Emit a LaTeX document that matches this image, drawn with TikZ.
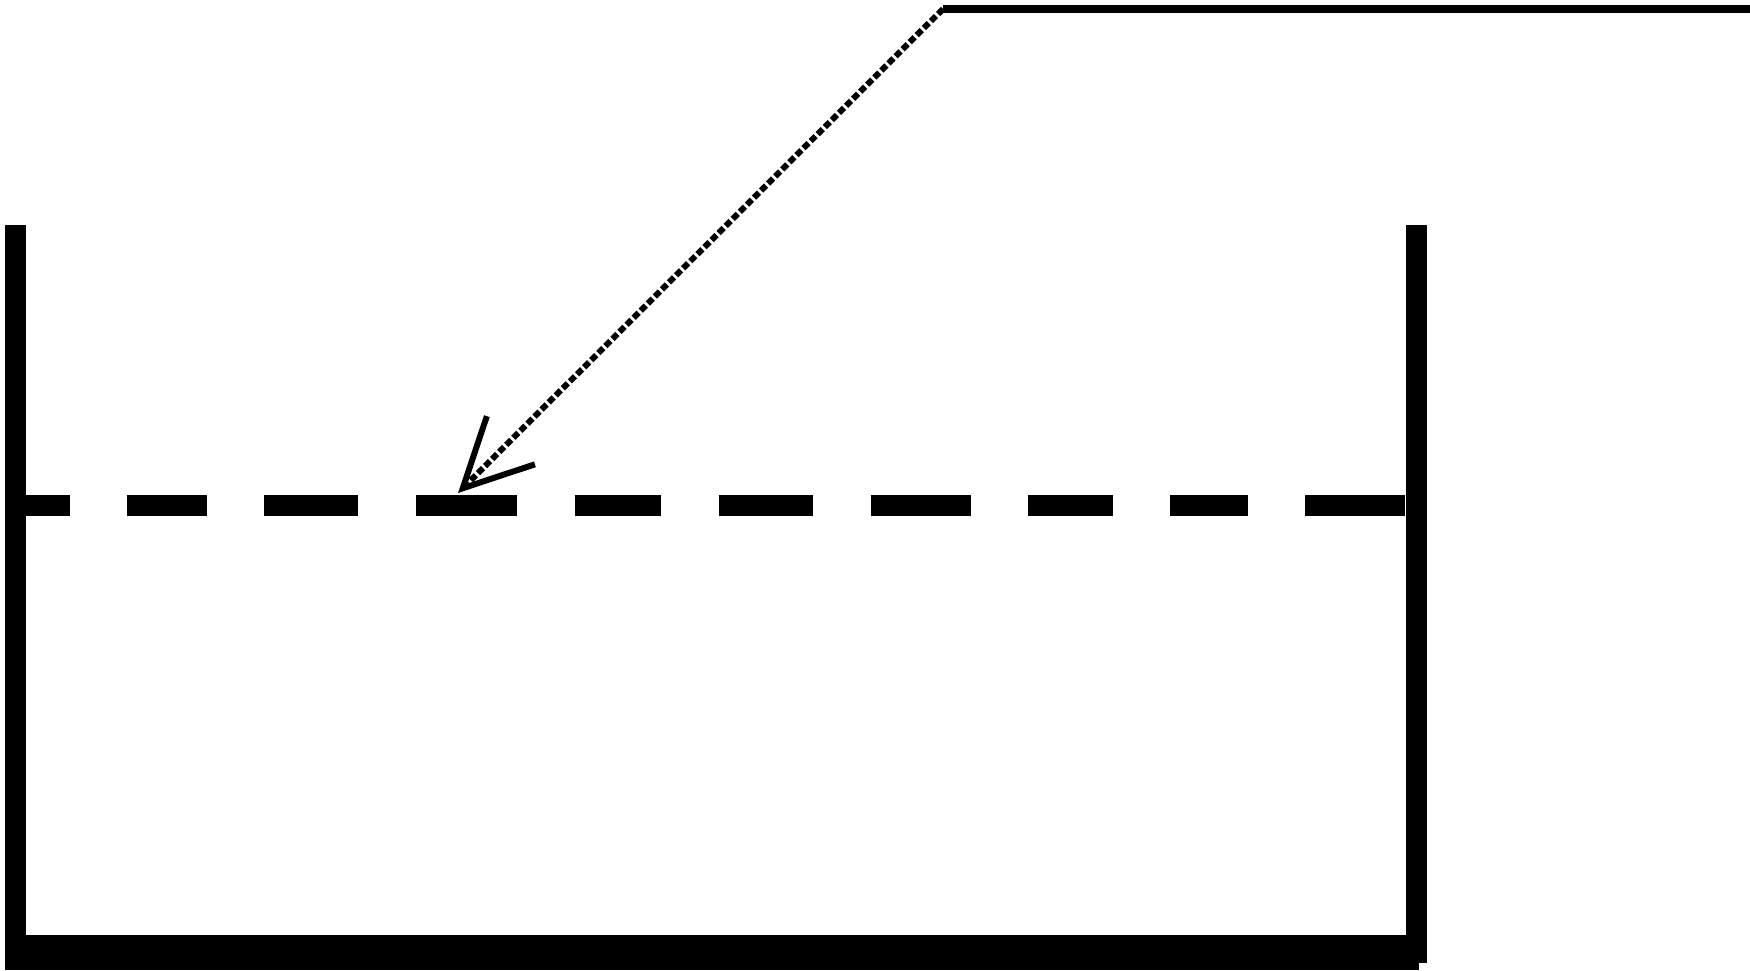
\documentclass[tikz,border=0pt]{standalone}
\usetikzlibrary{arrows.meta}
\begin{document}
\begin{tikzpicture}[x = 0.5pt, y = -0.5pt,
  wall/.style = {line width = 10.5pt},
  floor/.style = {line width = 17.5pt},
  level/.style = {line width = 10.5pt},
  leader/.style = {line width = 3pt, dash pattern = on 3.5pt off 1.5pt},
  shelf/.style = {line width = 4pt}]
\useasboundingbox (0,0) rectangle (1750,970);
% tank
\draw [wall] (15.5,225) -- (15.5,970);
\draw [wall] (1416,225) -- (1416,963);
\draw [floor] (5,952.5) -- (1419,952.5);
% water level
\foreach \a/\b in {26/70,127/207,264/358,416/517,575/661,719/813,871/971,1028/1113,1170/1248,1305/1405}
  \draw [level] (\a,505.5) -- (\b,505.5);
% pointer
\coordinate (end) at (1750,9);
\coordinate (bend) at (943,9);
\coordinate (tip) at (458,493);
\draw [shelf] (end) -- (bend);
\draw [leader, -{Straight Barb[length = 34pt, width = 34pt]}] (bend) -- (tip);
\end{tikzpicture}
\end{document}
